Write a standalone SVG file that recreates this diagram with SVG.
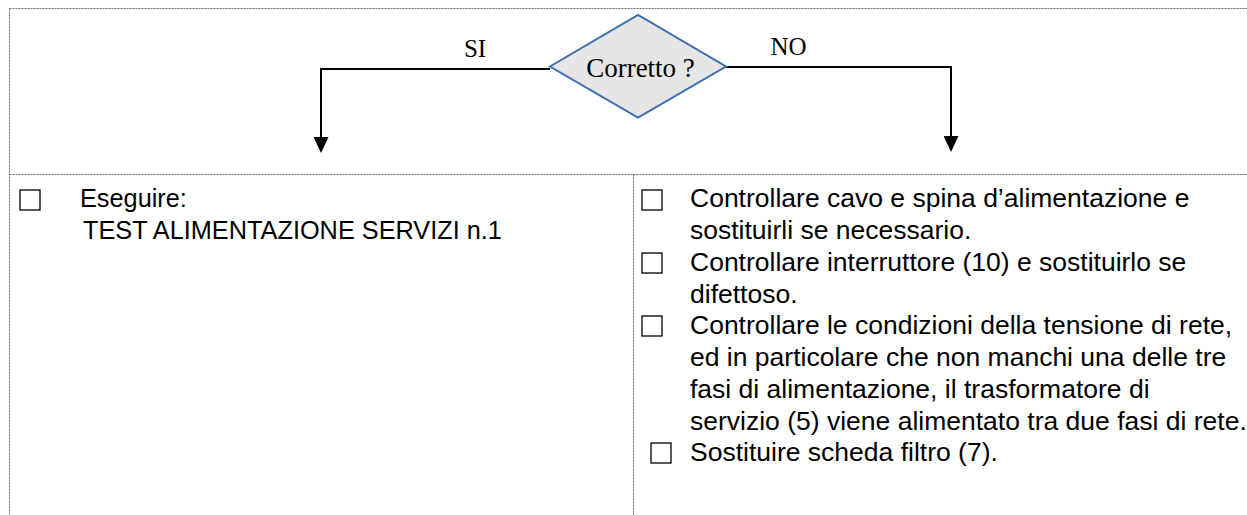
<svg xmlns="http://www.w3.org/2000/svg" width="1247" height="515" viewBox="0 0 1247 515">
  <style>
    .frame { stroke: #6b6b6b; stroke-width: 1; stroke-dasharray: 2 1; fill: none; }
    .link { stroke: #000; stroke-width: 2; fill: none; }
    .serif { font-family: "Liberation Serif", "Times New Roman", serif; fill: #000; }
    .sans { font-family: "Liberation Sans", Arial, sans-serif; font-size: 26.5px; fill: #000; }
    .sans-l { font-family: "Liberation Sans", Arial, sans-serif; font-size: 25.3px; fill: #000; }
    .box { fill: #fff; stroke: #000; stroke-width: 1.3; }
  </style>
  <defs>
    <marker id="arrow" viewBox="0 0 16 15" refX="3" refY="7.5" markerWidth="16" markerHeight="15" markerUnits="userSpaceOnUse" orient="auto">
      <path d="M0 0 L16 7.5 L0 15 Z" fill="#000"/>
    </marker>
  </defs>
  <rect width="1247" height="515" fill="#fff"/>

  <!-- table frame -->
  <g id="frame">
    <line class="frame" x1="9.5" y1="8.5" x2="1247" y2="8.5"/>
    <line class="frame" x1="9.5" y1="8.5" x2="9.5" y2="515"/>
    <line class="frame" x1="9.5" y1="174.5" x2="1247" y2="174.5"/>
    <line class="frame" x1="633.5" y1="174.5" x2="633.5" y2="515"/>
  </g>

  <!-- connectors -->
  <g id="connectors">
    <path class="link" d="M550 69 H321 V140" marker-end="url(#arrow)"/>
    <path class="link" d="M726 67 H951 V139" marker-end="url(#arrow)"/>
    <text class="serif" x="475" y="57" font-size="25" text-anchor="middle">SI</text>
    <text class="serif" x="788.5" y="55" font-size="25" text-anchor="middle">NO</text>
  </g>

  <!-- decision -->
  <g id="decision">
    <polygon points="550,66.5 638,15 726,66.5 638,117.5" fill="#e6e6e6" stroke="#3d6fb0" stroke-width="2"/>
    <text class="serif" x="640.5" y="77" font-size="27" text-anchor="middle">Corretto ?</text>
  </g>

  <!-- YES branch -->
  <g id="yes-actions">
    <rect class="box" x="20" y="190" width="20" height="20"/>
    <text class="sans-l" x="80" y="207">Eseguire:</text>
    <text class="sans-l" x="83" y="239">TEST ALIMENTAZIONE SERVIZI n.1</text>
  </g>

  <!-- NO branch -->
  <g id="no-actions">
    <rect class="box" x="642" y="190" width="20" height="20"/>
    <text class="sans" x="690" y="207">Controllare cavo e spina d’alimentazione e</text>
    <text class="sans" x="690" y="239">sostituirli se necessario.</text>
    <rect class="box" x="642" y="253" width="20" height="20"/>
    <text class="sans" x="690" y="271">Controllare interruttore (10) e sostituirlo se</text>
    <text class="sans" x="690" y="303">difettoso.</text>
    <rect class="box" x="642" y="316" width="20" height="20"/>
    <text class="sans" x="690" y="334">Controllare le condizioni della tensione di rete,</text>
    <text class="sans" x="690" y="366">ed in particolare che non manchi una delle tre</text>
    <text class="sans" x="690" y="398">fasi di alimentazione, il trasformatore di</text>
    <text class="sans" x="690" y="430">servizio (5) viene alimentato tra due fasi di rete.</text>
    <rect class="box" x="651" y="443" width="20" height="20"/>
    <text class="sans" x="690" y="461">Sostituire scheda filtro (7).</text>
  </g>
</svg>
